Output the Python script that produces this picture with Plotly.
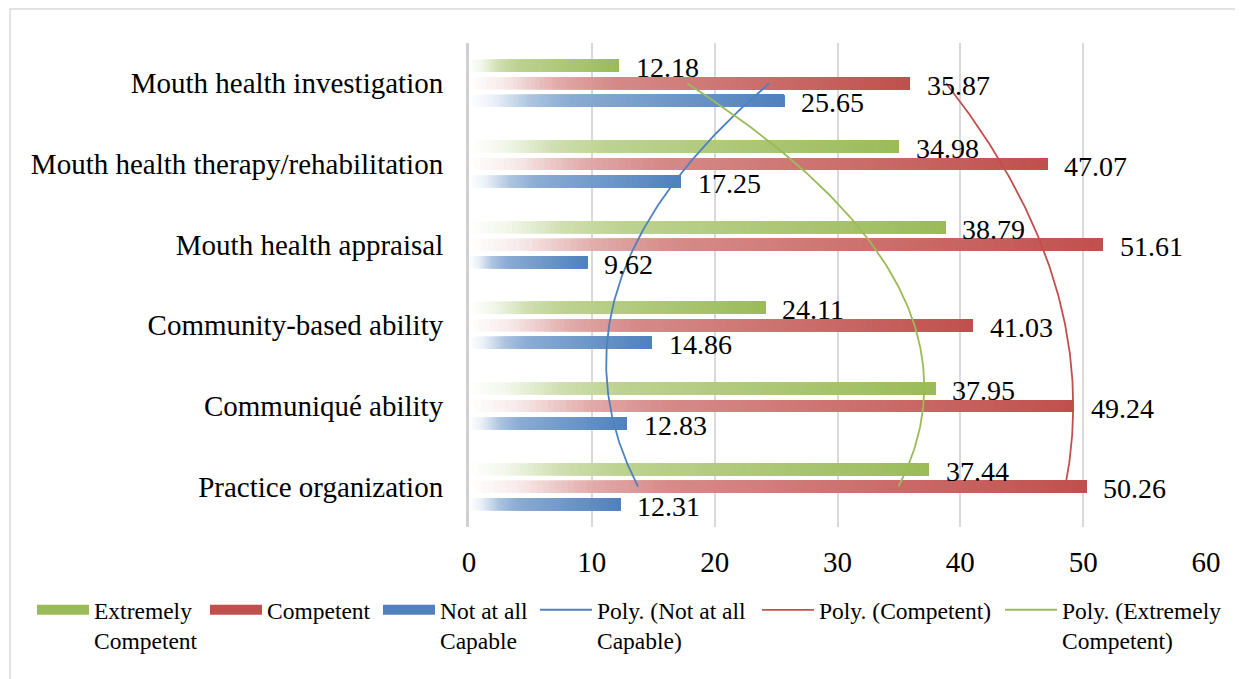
import numpy as np
import plotly.graph_objects as go

# ---------------- data ----------------
categories = [
    "Practice organization",
    "Communiqué ability",
    "Community-based ability",
    "Mouth health appraisal",
    "Mouth health therapy/rehabilitation",
    "Mouth health investigation",
]
extremely_competent = [37.44, 37.95, 24.11, 38.79, 34.98, 12.18]
competent = [50.26, 49.24, 41.03, 51.61, 47.07, 35.87]
not_at_all_capable = [12.31, 12.83, 14.86, 9.62, 17.25, 25.65]
x_ticks = [0, 10, 20, 30, 40, 50, 60]

# ---------------- styles ----------------
FONT = "Liberation Serif"
BLUE = (79, 129, 189)
RED = (192, 80, 77)
GREEN = (155, 187, 89)

# series listed bottom-to-top inside a category group
series = [
    dict(key="nac", name="Not at all<br>Capable", vals=not_at_all_capable, rgb=BLUE,
         poly="Poly. (Not at all<br>Capable)", leg=3, pleg=4, yshift=-19.5),
    dict(key="comp", name="Competent", vals=competent, rgb=RED,
         poly="Poly. (Competent)", leg=2, pleg=5, yshift=-2),
    dict(key="ext", name="Extremely<br>Competent", vals=extremely_competent, rgb=GREEN,
         poly="Poly. (Extremely<br>Competent)", leg=1, pleg=6, yshift=15.5),
]

# gradient stops (fraction along bar -> amount of full colour)
STOPS = [(0.0, 0.0), (0.08, 0.12), (0.2, 0.48), (0.32, 0.66), (1.0, 1.0)]


def grad_color(rgb, f):
    a = np.interp(f, [s[0] for s in STOPS], [s[1] for s in STOPS])
    c = [round(255 + a * (ch - 255)) for ch in rgb]
    return f"rgb({c[0]},{c[1]},{c[2]})"


def solid(rgb):
    return f"rgb({rgb[0]},{rgb[1]},{rgb[2]})"


def legend_ref(n):
    return "legend" if n == 1 else f"legend{n}"


ypos = list(range(len(categories)))
N_SEG = 100

fig = go.Figure()

# gradient bars: each series drawn as overlapping segments in the same offset group
for s in series:
    vals = s["vals"]
    for k in range(N_SEG):
        f = k / N_SEG
        fig.add_trace(go.Bar(
            y=ypos,
            x=[v * (1 - f) for v in vals],
            base=[v * f for v in vals],
            orientation="h",
            offsetgroup=s["key"],
            marker=dict(color=grad_color(s["rgb"], (k + 0.5) / N_SEG), line=dict(width=0)),
            showlegend=False,
            legendgroup=s["key"],
            legend=legend_ref(s["leg"]),
            hoverinfo="skip",
        ))

# legend entries for the bar series
for s in series:
    fig.add_trace(go.Scatter(
        x=[None], y=[None], mode="lines",
        line=dict(color=solid(s["rgb"]), width=13),
        name=s["name"], legendgroup=s["key"], legend=legend_ref(s["leg"]),
    ))

# polynomial (order 2) trendlines fitted on category index, as Excel does
idx = np.arange(1, len(categories) + 1)
t = np.linspace(1, len(categories), 121)
for s in series:
    coeffs = np.polyfit(idx, s["vals"], 2)
    fig.add_trace(go.Scatter(
        x=np.polyval(coeffs, t),
        y=t - 1,
        mode="lines",
        line=dict(color=solid(s["rgb"]), width=1.8),
        name=s["poly"], legend=legend_ref(s["pleg"]),
        hoverinfo="skip",
    ))

# data labels
annotations = []
for s in series:
    for yi, v in zip(ypos, s["vals"]):
        annotations.append(dict(
            x=v, y=yi, xref="x", yref="y", text=f"{v:.2f}", showarrow=False,
            xanchor="left", yanchor="middle", xshift=15, yshift=s["yshift"],
            font=dict(family=FONT, size=28, color="black"),
        ))

# the page places the figure 8px from the top-left corner (body margin)
OFF = 8
W, H = 1300, 679 - OFF
ML = 469 - OFF
MT = 43 - OFF
PLOT_R = 1206 - OFF
PLOT_B = 527 - OFF
MR = W - PLOT_R
MB = H - PLOT_B
PW, PH = W - ML - MR, H - MT - MB

# one legend box per entry so the row never wraps (left edges in page pixels)
legend_left = [32, 205, 378, 535, 757, 1000]
legends = {}
for n, lx in enumerate(legend_left, start=1):
    legends[legend_ref(n)] = dict(
        orientation="h", xref="container", yref="container",
        x=(lx - OFF) / W, y=1 - 580 / H, xanchor="left", yanchor="top",
        font=dict(family=FONT, size=23.5, color="black"),
        itemwidth=52, valign="top", bgcolor="rgba(0,0,0,0)",
    )

fig.update_layout(
    width=W, height=H,
    margin=dict(l=ML, r=MR, t=MT, b=MB, autoexpand=False),
    paper_bgcolor="white", plot_bgcolor="white",
    barmode="group", bargap=0.35, bargroupgap=0.31,
    font=dict(family=FONT, color="black"),
    annotations=annotations,
    xaxis=dict(
        range=[0, 60], tickvals=x_ticks, showgrid=True, gridcolor="#d9d9d9", gridwidth=1.5,
        zeroline=False, showline=False, ticks="", ticklabelstandoff=15,
        tickfont=dict(family=FONT, size=29, color="black"),
    ),
    yaxis=dict(
        range=[-0.5, len(categories) - 0.5], tickvals=ypos, ticktext=categories,
        showgrid=False, zeroline=False, showline=True, linecolor="#d0d0d0", linewidth=3,
        layer="above traces", ticks="", ticklabelstandoff=17,
        tickfont=dict(family=FONT, size=29, color="black"),
    ),
    shapes=[dict(
        type="rect", xref="paper", yref="paper",
        x0=(10 - OFF - ML) / PW, x1=(1243 + 10 - OFF - ML) / PW,
        y0=-(MB + 10) / PH, y1=(H - (9 - OFF) - MB) / PH,
        line=dict(color="#d9d9d9", width=1.5), fillcolor="rgba(0,0,0,0)", layer="below",
    )],
    **legends,
)

fig.write_html("out.html")
